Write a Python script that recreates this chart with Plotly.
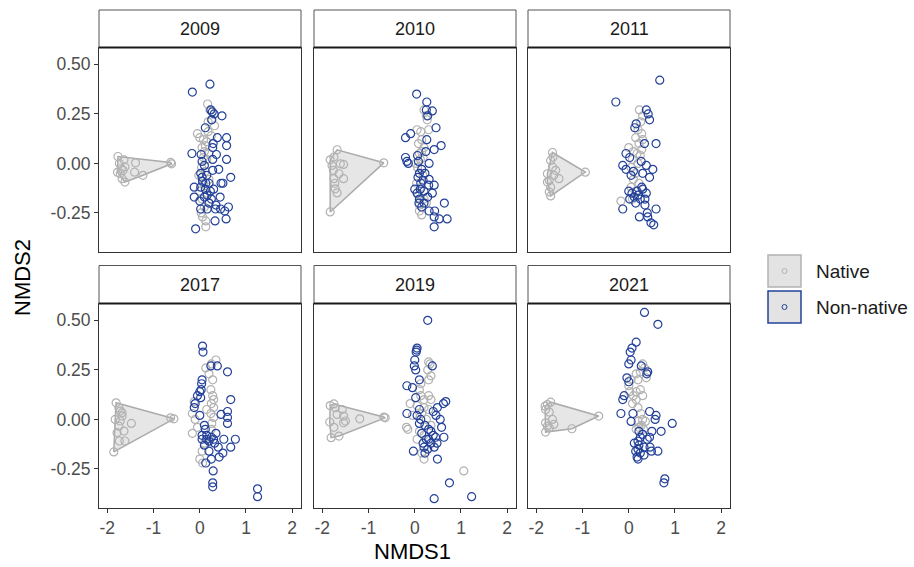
import plotly.graph_objects as go

# ---------------- data: (NMDS1, NMDS2) per year ----------------
years = ["2009", "2010", "2011", "2017", "2019", "2021"]

# native sites in the outlying (left) group, enclosed by a hull
native_outer_2009 = [(-1.77, 0.035), (-1.64, 0.018), (-1.39, 0.003), (-1.70, -0.027), (-1.62, -0.018),
                     (-1.72, -0.052), (-1.68, -0.077), (-1.62, -0.094), (-1.41, -0.044), (-1.23, -0.06),
                     (-0.63, 0.005), (-0.61, -0.002), (-1.78, -0.045), (-1.66, -0.035), (-1.74, 0.0)]
native_outer_2010 = [(-1.68, 0.069), (-1.83, 0.018), (-1.75, 0.032), (-1.79, -0.01), (-1.61, -0.002),
                     (-1.54, -0.005), (-1.64, -0.052), (-1.75, -0.077), (-1.54, -0.077), (-1.72, -0.128),
                     (-1.68, -0.149), (-1.83, -0.245), (-0.67, 0.003), (-1.73, -0.10), (-1.76, -0.035)]
native_outer_2011 = [(-1.65, 0.055), (-1.64, 0.032), (-1.69, 0.015), (-1.76, -0.052), (-1.72, -0.086),
                     (-1.62, -0.06), (-1.58, -0.035), (-1.51, -0.077), (-1.69, -0.12), (-1.72, -0.144),
                     (-1.69, -0.164), (-0.94, -0.044), (-1.76, -0.094), (-1.65, -0.018)]
native_outer_2017 = [(-1.81, 0.084), (-1.75, 0.059), (-1.72, 0.042), (-1.68, 0.017), (-1.83, 0.0),
                     (-1.72, -0.008), (-1.75, -0.034), (-1.48, -0.02), (-1.64, -0.059), (-1.74, -0.109),
                     (-1.62, -0.109), (-1.86, -0.164), (-0.63, 0.008), (-0.56, 0.003), (-1.79, -0.067),
                     (-1.68, 0.034)]
native_outer_2019 = [(-1.83, 0.07), (-1.75, 0.078), (-1.72, 0.059), (-1.57, 0.05), (-1.68, 0.025),
                     (-1.54, 0.017), (-1.50, -0.008), (-1.84, -0.013), (-1.19, 0.003), (-1.81, -0.092),
                     (-1.64, -0.084), (-0.67, 0.012), (-0.64, 0.008), (-1.75, -0.04), (-1.54, -0.017)]
native_outer_2021 = [(-1.69, 0.087), (-1.76, 0.075), (-1.81, 0.067), (-1.80, 0.05), (-1.72, 0.037),
                     (-1.65, 0.0), (-1.80, -0.017), (-1.76, -0.034), (-1.62, -0.025), (-1.80, -0.064),
                     (-1.23, -0.047), (-0.65, 0.017), (-1.72, -0.042)]

# remaining native sites
native_2009 = [(0.17, 0.30), (0.22, 0.27), (0.25, 0.22), (0.32, 0.19), (0.18, 0.21), (-0.05, 0.15),
               (0.0, 0.13), (0.08, 0.12), (0.15, 0.11), (0.12, 0.09), (0.05, 0.08), (0.10, 0.06),
               (0.20, 0.05), (0.08, 0.03), (0.15, 0.02), (0.04, -0.02), (0.12, -0.04), (-0.02, -0.06),
               (0.20, -0.08), (0.08, -0.10), (0.0, -0.14), (0.15, -0.15), (0.05, -0.18), (0.20, -0.20),
               (0.10, -0.22), (0.06, -0.27), (0.13, -0.29), (0.13, -0.32), (0.03, -0.25), (0.18, 0.16),
               (0.25, 0.14)]
native_2010 = [(0.20, 0.27), (0.25, 0.24), (0.27, 0.22), (0.05, 0.17), (0.13, 0.16), (0.30, 0.17),
               (0.15, 0.12), (0.08, 0.10), (0.20, 0.08), (0.15, 0.06), (0.10, 0.05), (0.18, 0.03),
               (0.12, 0.02), (0.06, -0.02), (0.10, -0.05), (0.18, -0.06), (0.04, -0.10), (0.14, -0.12),
               (0.08, -0.16), (0.20, -0.18), (0.10, -0.21), (0.10, -0.24), (0.15, -0.26), (0.25, -0.20),
               (0.02, 0.0)]
native_2011 = [(0.23, 0.27), (0.30, 0.24), (0.26, 0.21), (0.20, 0.17), (0.28, 0.15), (0.15, 0.13),
               (0.30, 0.12), (0.0, 0.08), (0.10, 0.06), (0.18, 0.05), (0.25, 0.04), (0.28, 0.07),
               (0.08, 0.02), (0.20, 0.0), (0.05, -0.02), (0.15, -0.05), (0.10, -0.08), (0.22, -0.10),
               (0.05, -0.12), (0.15, -0.14), (-0.17, -0.19), (0.08, -0.18), (0.22, 0.10)]
native_2017 = [(0.35, 0.30), (0.25, 0.28), (0.13, 0.26), (0.20, 0.23), (0.28, 0.20), (0.24, 0.15),
               (0.28, 0.12), (-0.12, 0.09), (0.25, 0.08), (0.30, 0.06), (0.24, 0.03), (0.30, 0.01),
               (0.26, -0.02), (-0.16, 0.03), (-0.10, 0.0), (-0.05, -0.04), (-0.16, -0.07), (0.20, -0.10),
               (0.10, -0.12), (0.05, -0.16), (0.0, -0.20), (0.06, -0.22), (0.30, 0.10), (0.25, -0.05),
               (0.15, 0.05)]
native_2019 = [(0.30, 0.29), (0.33, 0.28), (0.28, 0.25), (0.35, 0.22), (0.30, 0.20), (0.13, 0.18),
               (0.10, 0.15), (0.13, 0.12), (0.30, 0.12), (0.35, 0.10), (-0.10, 0.08), (0.05, 0.07),
               (0.20, 0.06), (0.30, 0.05), (0.15, 0.03), (0.25, 0.0), (-0.05, 0.02), (-0.18, -0.04),
               (-0.15, -0.05), (0.10, -0.06), (0.20, -0.08), (0.05, -0.10), (0.20, -0.20), (0.15, -0.17),
               (1.06, -0.26), (0.20, 0.10), (0.35, -0.03)]
native_2021 = [(0.30, 0.28), (0.34, 0.26), (0.16, 0.23), (0.38, 0.21), (0.25, 0.24), (0.20, 0.20),
               (0.0, 0.17), (0.02, 0.14), (0.16, 0.14), (0.30, 0.12), (0.16, 0.10), (0.08, 0.08),
               (0.20, 0.06), (0.26, 0.03), (0.30, 0.0), (0.20, -0.01), (0.36, -0.01), (0.27, -0.03),
               (0.16, -0.05), (0.22, -0.04), (0.32, -0.05), (0.10, 0.12), (0.25, 0.15), (0.05, 0.20)]

# non-native sites
nonnative_2009 = [(-0.16, 0.36), (0.22, 0.40), (0.24, 0.27), (0.27, 0.26), (0.31, 0.25), (0.48, 0.24),
                  (0.26, 0.22), (0.12, 0.18), (0.38, 0.13), (0.58, 0.13), (0.29, 0.10), (0.58, 0.09),
                  (0.28, 0.08), (-0.17, 0.05), (0.03, 0.045), (0.36, 0.045), (0.28, 0.02), (0.58, 0.02),
                  (0.05, 0.01), (0.10, -0.01), (0.28, -0.035), (0.41, -0.03), (0.67, -0.07), (0.05, -0.07),
                  (0.06, -0.09), (0.13, -0.10), (0.20, -0.10), (0.46, -0.10), (0.50, -0.10), (-0.12, -0.12),
                  (0.02, -0.12), (0.12, -0.13), (0.23, -0.14), (0.30, -0.13), (0.16, -0.16), (-0.12, -0.17),
                  (0.10, -0.17), (0.25, -0.18), (0.44, -0.17), (0.0, -0.19), (0.20, -0.20), (0.35, -0.21),
                  (0.62, -0.22), (0.02, -0.23), (0.16, -0.23), (0.34, -0.23), (0.45, -0.23), (0.54, -0.24),
                  (0.57, -0.28), (0.33, -0.29), (-0.09, -0.33), (0.02, -0.05), (0.15, -0.06)]
nonnative_2010 = [(0.04, 0.35), (0.26, 0.31), (0.25, 0.27), (0.38, 0.265), (0.28, 0.24), (0.46, 0.18),
                  (-0.09, 0.15), (-0.20, 0.13), (0.26, 0.12), (0.57, 0.09), (0.42, 0.07), (0.24, 0.06),
                  (-0.20, 0.03), (-0.17, 0.01), (-0.14, 0.0), (0.06, 0.04), (0.08, 0.01), (0.31, 0.0),
                  (0.10, -0.05), (0.07, -0.07), (0.18, -0.085), (0.31, -0.08), (0.13, -0.10), (0.30, -0.11),
                  (0.42, -0.11), (0.0, -0.13), (0.05, -0.15), (0.20, -0.14), (0.38, -0.15), (0.10, -0.18),
                  (0.28, -0.17), (0.09, -0.20), (0.15, -0.22), (0.64, -0.20), (0.31, -0.24), (0.43, -0.24),
                  (0.42, -0.27), (0.53, -0.28), (0.70, -0.28), (0.42, -0.32), (0.15, -0.03), (0.22, -0.05),
                  (0.12, -0.13), (0.20, -0.20)]
nonnative_2011 = [(0.67, 0.42), (-0.28, 0.31), (0.38, 0.27), (0.42, 0.25), (0.45, 0.22), (0.16, 0.20),
                  (0.13, 0.18), (0.34, 0.10), (0.59, 0.10), (-0.06, 0.05), (0.02, 0.03), (-0.13, -0.01),
                  (-0.06, -0.03), (0.27, 0.01), (0.38, -0.01), (0.52, -0.03), (0.45, -0.07), (0.05, -0.06),
                  (0.10, -0.04), (0.0, -0.14), (0.07, -0.15), (0.18, -0.14), (0.30, -0.13), (0.38, -0.15),
                  (0.02, -0.18), (0.12, -0.17), (0.25, -0.18), (0.35, -0.18), (0.15, -0.20), (0.35, -0.21),
                  (-0.13, -0.23), (0.40, -0.25), (0.59, -0.23), (0.23, -0.27), (0.41, -0.27), (0.48, -0.30),
                  (0.54, -0.31), (0.20, -0.16), (0.28, -0.12), (0.30, -0.05)]
nonnative_2017 = [(0.06, 0.37), (0.07, 0.34), (0.24, 0.27), (0.38, 0.27), (0.60, 0.24), (0.05, 0.20),
                  (0.04, 0.18), (0.03, 0.15), (0.0, 0.14), (-0.05, 0.12), (0.02, 0.11), (-0.10, 0.08),
                  (-0.12, 0.06), (0.67, 0.10), (0.60, 0.04), (0.46, 0.025), (0.60, 0.01), (0.60, -0.02),
                  (0.0, 0.02), (0.10, -0.03), (0.12, -0.05), (0.05, -0.08), (0.15, -0.08), (0.25, -0.09),
                  (0.35, -0.07), (0.05, -0.10), (0.20, -0.11), (0.32, -0.12), (0.52, -0.10), (0.77, -0.10),
                  (0.10, -0.13), (0.40, -0.14), (0.67, -0.14), (0.20, -0.16), (0.50, -0.17), (0.42, -0.19),
                  (0.25, -0.20), (0.13, -0.22), (0.29, -0.26), (0.28, -0.32), (0.28, -0.34), (1.25, -0.35),
                  (1.25, -0.39), (0.15, -0.10), (0.30, -0.10)]
nonnative_2019 = [(0.28, 0.50), (0.05, 0.36), (0.04, 0.35), (0.03, 0.34), (0.0, 0.30), (-0.01, 0.27),
                  (0.38, 0.27), (0.02, 0.25), (0.10, 0.20), (-0.17, 0.17), (-0.05, 0.16), (0.02, 0.11),
                  (0.67, 0.09), (0.62, 0.08), (0.49, 0.06), (0.40, 0.04), (-0.17, 0.03), (0.05, 0.02),
                  (0.13, 0.0), (0.46, 0.02), (0.55, 0.0), (0.10, -0.02), (0.22, -0.03), (0.30, -0.05),
                  (0.58, -0.04), (0.35, -0.06), (0.15, -0.07), (0.40, -0.08), (0.25, -0.10), (0.45, -0.09),
                  (0.63, -0.09), (0.18, -0.12), (0.35, -0.12), (0.48, -0.12), (0.20, -0.14), (0.28, -0.15),
                  (0.42, -0.14), (-0.03, -0.16), (0.22, -0.17), (0.49, -0.20), (0.75, -0.32), (0.42, -0.40),
                  (1.23, -0.39), (0.10, 0.05), (0.30, -0.10)]
nonnative_2021 = [(0.34, 0.54), (0.63, 0.48), (0.16, 0.39), (0.07, 0.36), (0.03, 0.34), (0.05, 0.30),
                  (0.0, 0.28), (0.27, 0.27), (0.41, 0.24), (0.39, 0.23), (-0.04, 0.21), (0.0, 0.19),
                  (-0.13, 0.10), (-0.10, 0.12), (-0.17, 0.03), (0.09, 0.03), (0.45, 0.04), (0.59, 0.02),
                  (0.57, 0.0), (0.94, -0.02), (0.05, -0.01), (0.22, -0.06), (0.30, -0.075), (0.50, -0.06),
                  (0.70, -0.06), (0.25, -0.09), (0.40, -0.10), (0.20, -0.11), (0.12, -0.12), (0.22, -0.13),
                  (0.33, -0.14), (0.46, -0.14), (0.20, -0.15), (0.49, -0.16), (0.63, -0.16), (0.25, -0.17),
                  (0.18, -0.19), (0.33, -0.18), (0.20, -0.20), (0.78, -0.30), (0.76, -0.32), (0.15, -0.16),
                  (0.45, -0.09)]

x_ticks = [-2, -1, 0, 1, 2]
y_ticks = [-0.25, 0.0, 0.25, 0.50]
y_tick_text = ["-0.25", "0.00", "0.25", "0.50"]

outer_groups = [native_outer_2009, native_outer_2010, native_outer_2011,
                native_outer_2017, native_outer_2019, native_outer_2021]
native_groups = [native_2009, native_2010, native_2011, native_2017, native_2019, native_2021]
nonnative_groups = [nonnative_2009, nonnative_2010, nonnative_2011,
                    nonnative_2017, nonnative_2019, nonnative_2021]

# ---------------- styling ----------------
W, H = 914, 567
FONT = "Liberation Sans, Arial, sans-serif"
GREY = "#B2B2B2"
BLUE = "#23419A"
HULL_FILL = "rgba(222,222,222,0.75)"
HULL_LINE = "#ABABAB"
BORDER = "#333333"
TICK_SIZE = 17.5

col_px = [(99, 301), (314, 516), (528, 730)]
row_px = [(47.5, 252), (303.5, 508)]
strip_px = [(10, 47.5), (265.5, 303.5)]
x_range = [-2.18, 2.19]
y_range = [-0.447, 0.585]


def px_x(v):
    return v / W


def px_y(v):
    return 1 - v / H


def convex_hull(points):
    pts = sorted(set(points))
    if len(pts) < 3:
        return pts

    def cross(o, a, b):
        return (a[0] - o[0]) * (b[1] - o[1]) - (a[1] - o[1]) * (b[0] - o[0])

    lower, upper = [], []
    for p in pts:
        while len(lower) >= 2 and cross(lower[-2], lower[-1], p) <= 0:
            lower.pop()
        lower.append(p)
    for p in reversed(pts):
        while len(upper) >= 2 and cross(upper[-2], upper[-1], p) <= 0:
            upper.pop()
        upper.append(p)
    return lower[:-1] + upper[:-1]


fig = go.Figure()
shapes = []
annotations = []

for i, year in enumerate(years):
    r, c = divmod(i, 3)
    sfx = "" if i == 0 else str(i + 1)
    xa, ya = "x" + sfx, "y" + sfx

    hull = convex_hull(outer_groups[i])
    hull = hull + [hull[0]]
    fig.add_trace(go.Scatter(
        x=[p[0] for p in hull], y=[p[1] for p in hull], mode="lines",
        fill="toself", fillcolor=HULL_FILL, line=dict(color=HULL_LINE, width=1.5),
        xaxis=xa, yaxis=ya, showlegend=False, hoverinfo="skip"))

    nat = outer_groups[i] + native_groups[i]
    fig.add_trace(go.Scatter(
        x=[p[0] for p in nat], y=[p[1] for p in nat], mode="markers",
        marker=dict(symbol="circle-open", size=8, color=GREY, line=dict(width=1.2)),
        xaxis=xa, yaxis=ya, showlegend=False, name="Native"))

    non = nonnative_groups[i]
    fig.add_trace(go.Scatter(
        x=[p[0] for p in non], y=[p[1] for p in non], mode="markers",
        marker=dict(symbol="circle-open", size=8, color=BLUE, line=dict(width=1.2)),
        xaxis=xa, yaxis=ya, showlegend=False, name="Non-native"))

    x0, x1 = col_px[c]
    y0, y1 = row_px[r]
    fig.layout["xaxis" + sfx] = dict(
        domain=[px_x(x0), px_x(x1)], range=x_range, anchor=ya,
        showgrid=False, zeroline=False, showline=True, mirror=True,
        linecolor=BORDER, linewidth=1,
        tickmode="array", tickvals=x_ticks, ticktext=[str(v) for v in x_ticks],
        ticks="outside" if r == 1 else "", ticklen=4, tickwidth=1, tickcolor=BORDER,
        showticklabels=(r == 1),
        tickfont=dict(family=FONT, size=TICK_SIZE, color="#4D4D4D"))
    fig.layout["yaxis" + sfx] = dict(
        domain=[px_y(y1), px_y(y0)], range=y_range, anchor=xa,
        showgrid=False, zeroline=False, showline=True, mirror=True,
        linecolor=BORDER, linewidth=1,
        tickmode="array", tickvals=y_ticks, ticktext=y_tick_text,
        ticks="outside" if c == 0 else "", ticklen=4, tickwidth=1, tickcolor=BORDER,
        showticklabels=(c == 0),
        tickfont=dict(family=FONT, size=TICK_SIZE, color="#4D4D4D"))

    # facet strip: outline only (page background is white)
    sy0, sy1 = strip_px[r]
    shapes.append(dict(type="rect", xref="paper", yref="paper",
                       x0=px_x(x0), x1=px_x(x1), y0=px_y(sy1), y1=px_y(sy0),
                       fillcolor="rgba(0,0,0,0)", line=dict(color="#555555", width=1)))
    shapes.append(dict(type="line", xref="paper", yref="paper",
                       x0=px_x(x0), x1=px_x(x1), y0=px_y(sy1), y1=px_y(sy1),
                       line=dict(color="#1A1A1A", width=2)))
    annotations.append(dict(text=year, xref="paper", yref="paper",
                            x=px_x((x0 + x1) / 2), y=px_y((sy0 + sy1) / 2),
                            xanchor="center", yanchor="middle", showarrow=False,
                            font=dict(family=FONT, size=18, color="#1A1A1A")))

# axis titles
annotations.append(dict(text="NMDS1", xref="paper", yref="paper",
                        x=px_x(412), y=px_y(551), xanchor="center", yanchor="middle",
                        showarrow=False, font=dict(family=FONT, size=22, color="black")))
annotations.append(dict(text="NMDS2", xref="paper", yref="paper",
                        x=px_x(22), y=px_y(278), xanchor="center", yanchor="middle",
                        textangle=-90, showarrow=False,
                        font=dict(family=FONT, size=22, color="black")))

# legend keys
legend_items = [("Native", GREY, 255, 287), ("Non-native", BLUE, 291, 323)]
for label, col, ky0, ky1 in legend_items:
    shapes.append(dict(type="rect", xref="paper", yref="paper",
                       x0=px_x(768), x1=px_x(801), y0=px_y(ky1), y1=px_y(ky0),
                       fillcolor="#E3E3E3", line=dict(color=col, width=1.5)))
    cy = (ky0 + ky1) / 2
    shapes.append(dict(type="circle", xref="paper", yref="paper",
                       x0=px_x(782), x1=px_x(787), y0=px_y(cy + 2.5), y1=px_y(cy - 2.5),
                       fillcolor="rgba(0,0,0,0)", line=dict(color=col, width=1)))
    annotations.append(dict(text=label, xref="paper", yref="paper",
                            x=px_x(814), y=px_y(cy), xanchor="left", yanchor="middle",
                            showarrow=False, font=dict(family=FONT, size=19, color="#1A1A1A")))

fig.update_layout(
    width=W, height=H,
    margin=dict(l=0, r=0, t=0, b=0),
    paper_bgcolor="white", plot_bgcolor="white",
    showlegend=False,
    shapes=shapes, annotations=annotations,
    font=dict(family=FONT),
)

fig.write_html("out.html")
